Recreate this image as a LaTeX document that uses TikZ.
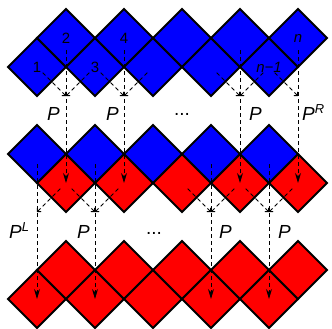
\documentclass[tikz,border=0pt]{standalone}
\usepackage{fontspec}
\setmainfont{Liberation Sans}
\usetikzlibrary{shapes.geometric,arrows.meta}
\begin{document}
\begin{tikzpicture}[x=1bp,y=-1bp,
  tile/.style={shape=diamond,draw=black,line width=1.8bp,minimum width=58bp,
    minimum height=58bp,inner sep=0pt,outer sep=0pt},
  bluetile/.style={tile,fill=blue},
  redtile/.style={tile,fill=red},
  num/.style={font=\fontsize{15}{15}\selectfont,inner sep=0pt},
  oplabel/.style={font=\fontsize{19}{19}\selectfont\itshape,inner sep=0pt,anchor=base west},
  dots/.style={font=\fontsize{19}{19}\selectfont,inner sep=0pt,anchor=base},
  link/.style={line width=1bp,dash pattern=on 4bp off 3bp},
  feed/.style={link,shorten <=8bp,-{To[length=3.5bp,width=6bp]}},
  carry/.style={link,-{Stealth[length=10bp,width=6bp]}}]
\useasboundingbox (0,0) rectangle (332,329);

% top row: all blue
\foreach \k in {0,...,4} {
  \node[bluetile] (tl\k) at (37+58*\k,67) {};
  \node[bluetile] (tu\k) at (66+58*\k,38) {};
}
% middle row: blue on top, red below
\foreach \k in {0,...,4} {
  \node[redtile] (ml\k) at (66+58*\k,183) {};
  \node[bluetile] (mu\k) at (37+58*\k,154) {};
}
% bottom row: all red
\foreach \k in {0,...,4} {
  \node[redtile] (bl\k) at (37+58*\k,299) {};
  \node[redtile] (bu\k) at (66+58*\k,270) {};
}

% site numbers
\node[num] (n1) at (tl0.center) {1};
\node[num] (n2) at (tu0.center) {2};
\node[num] (n3) at (tl1.center) {3};
\node[num] (n4) at (tu1.center) {4};
\node[num] (nm) at (tl4.center) {\textit{n−1}};
\node[num] (nn) at (tu4.center) {\textit{n}};

% meeting points below the top row
\coordinate (ca0) at (66,96);
\coordinate (ca1) at (124,96);
\coordinate (ca3) at (240,96);
\coordinate (ca4) at (298,96);
% meeting points below the middle row
\coordinate (cb0) at (37,212);
\coordinate (cb1) at (95,212);
\coordinate (cb3) at (211,212);
\coordinate (cb4) at (269,212);

% top row to middle row
\draw[feed] (tl0.center) -- (ca0);
\draw[feed] (tl1.center) -- (ca0);
\draw[feed] (tl1.center) -- (ca1);
\draw[feed] (tl2.center) -- (ca1);
\draw[feed] (tl3.center) -- (ca3);
\draw[feed] (tl4.center) -- (ca3);
\draw[feed] (tl4.center) -- (ca4);
\draw[carry] ([yshift=-12bp]tu0.center) -- (ml0.center);
\draw[carry] ([yshift=-12bp]tu1.center) -- (ml1.center);
\draw[carry] ([yshift=-12bp]tu3.center) -- (ml3.center);
\draw[carry] ([yshift=-12bp]tu4.center) -- (ml4.center);

% middle row to bottom row
\draw[feed] (ml0.center) -- (cb0);
\draw[feed] (ml0.center) -- (cb1);
\draw[feed] (ml1.center) -- (cb1);
\draw[feed] (ml2.center) -- (cb3);
\draw[feed] (ml3.center) -- (cb3);
\draw[feed] (ml3.center) -- (cb4);
\draw[feed] (ml4.center) -- (cb4);
\draw[carry] ([yshift=-10bp]mu0.center) -- (bl0.center);
\draw[carry] ([yshift=-10bp]mu1.center) -- (bl1.center);
\draw[carry] ([yshift=-10bp]mu3.center) -- (bl3.center);
\draw[carry] ([yshift=-10bp]mu4.center) -- (bl4.center);

% operator labels
\node[oplabel] (pa1) at (47,120) {P};
\node[oplabel] (pa2) at (106,120) {P};
\node[dots] (da) at (182,115) {...};
\node[oplabel] (pa3) at (249,120) {P};
\node[oplabel] (pa4) at (302,120) {P\raisebox{7bp}{\fontsize{13}{13}\selectfont R}};
\node[oplabel] (pb1) at (9,238) {P\raisebox{7bp}{\fontsize{13}{13}\selectfont L}};
\node[oplabel] (pb2) at (77,238) {P};
\node[dots] (db) at (154,234) {...};
\node[oplabel] (pb3) at (219,238) {P};
\node[oplabel] (pb4) at (278,238) {P};
\end{tikzpicture}
\end{document}
